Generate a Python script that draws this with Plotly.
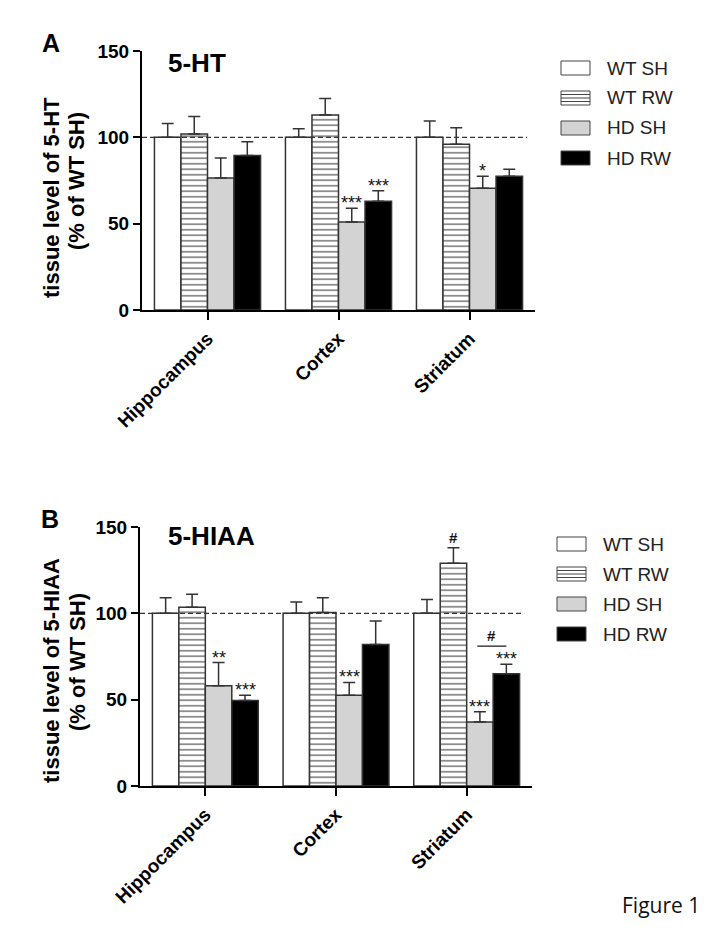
import plotly.graph_objects as go

# the page puts the figure 8 px in from the top-left corner
PAGE_PAD = 8
W, H = 716 - 2 * PAGE_PAD, 935 - 2 * PAGE_PAD

regions = ["Hippocampus", "Cortex", "Striatum"]
groups = ["WT SH", "WT RW", "HD SH", "HD RW"]

# panel A: 5-HT tissue level, % of WT SH (mean, SEM)
ht_mean = {
    "WT SH": [100, 100, 100],
    "WT RW": [102, 113, 96],
    "HD SH": [76.5, 51, 70.5],
    "HD RW": [89.5, 63, 77.5],
}
ht_sem = {
    "WT SH": [8, 5, 9.5],
    "WT RW": [10, 9.5, 9.5],
    "HD SH": [11.5, 8, 7],
    "HD RW": [8, 6, 4],
}
ht_sig = {
    "HD SH": ["", "***", "*"],
    "HD RW": ["", "***", ""],
}

# panel B: 5-HIAA tissue level, % of WT SH
hiaa_mean = {
    "WT SH": [100, 100, 100],
    "WT RW": [103.5, 100.5, 129],
    "HD SH": [58, 52.5, 37],
    "HD RW": [49.5, 82, 65],
}
hiaa_sem = {
    "WT SH": [9, 6.5, 8],
    "WT RW": [7.5, 8.5, 9],
    "HD SH": [13.5, 7.5, 6],
    "HD RW": [3, 13.5, 5.5],
}
hiaa_sig = {
    "WT RW": ["", "", "#"],
    "HD SH": ["**", "***", "***"],
    "HD RW": ["***", "", "***"],
}
# HD SH vs HD RW in striatum
hiaa_bracket = {"region": 2, "from": "HD SH", "to": "HD RW", "y": 81, "text": "#"}

FONT = "Liberation Sans, Arial, sans-serif"
EDGE = "#333"
FILL = {"WT SH": "white", "WT RW": "white", "HD SH": "#d3d3d3", "HD RW": "black"}
BARGAP = 0.19
BW = (1 - BARGAP) / len(groups)


def px(x):
    return (x - PAGE_PAD) / W


def py(y):
    return 1 - (y - PAGE_PAD) / H


def offset(g):
    return (groups.index(g) - 1.5) * BW


PANELS = [
    {
        "letter": "A", "title": "5-HT", "ytitle": "tissue level of 5-HT",
        "mean": ht_mean, "sem": ht_sem, "sig": ht_sig, "bracket": None,
        "xdom": (142, 535), "ydom": (51, 310),
        "legend": (561, 68), "label": (51, 43), "title_xy": (166, 63),
        "yt1": (51, 198), "yt2": (77, 181),
    },
    {
        "letter": "B", "title": "5-HIAA", "ytitle": "tissue level of 5-HIAA",
        "mean": hiaa_mean, "sem": hiaa_sem, "sig": hiaa_sig, "bracket": hiaa_bracket,
        "xdom": (140, 532), "ydom": (527, 786),
        "legend": (557, 544), "label": (50, 519), "title_xy": (166, 536),
        "yt1": (51, 671), "yt2": (77, 662),
    },
]


def paper_text(x, y, text, size, **kw):
    d = dict(x=px(x), y=py(y), xref="paper", yref="paper", text=text, showarrow=False,
             xanchor="center", yanchor="middle",
             font=dict(family=FONT, size=size, color=kw.pop("color", "black")))
    d.update(kw)
    return d


fig = go.Figure()
shapes = []
annotations = []

for p_i, p in enumerate(PANELS):
    sfx = "" if p_i == 0 else str(p_i + 1)
    xref, yref = "x" + sfx, "y" + sfx

    for g in groups:
        pattern = None
        if g == "WT RW":
            pattern = dict(shape="-", size=5.5, solidity=0.32, fgcolor="#111", bgcolor="white")
        fig.add_trace(
            go.Bar(
                x=regions,
                y=p["mean"][g],
                name=g,
                xaxis=xref,
                yaxis=yref,
                showlegend=False,
                marker=dict(color=FILL[g], line=dict(color=EDGE, width=1.5), pattern=pattern),
                error_y=dict(
                    type="data",
                    symmetric=False,
                    array=p["sem"][g],
                    arrayminus=[0] * len(regions),
                    color=EDGE,
                    thickness=1.5,
                    width=6,
                ),
            )
        )

    # significance marks above the error bars
    for g, marks in p["sig"].items():
        for j, m in enumerate(marks):
            if not m:
                continue
            star = m.startswith("*")
            annotations.append(
                dict(
                    x=j + offset(g), y=p["mean"][g][j] + p["sem"][g][j],
                    xref=xref, yref=yref, text=m if star else "<b>%s</b>" % m,
                    showarrow=False, xanchor="center", yanchor="bottom",
                    yshift=-7 if star else 0,
                    font=dict(family=FONT, size=18 if star else 15, color="#111"),
                )
            )

    b = p["bracket"]
    if b:
        x0 = b["region"] + offset(b["from"]) - 0.02
        x1 = b["region"] + offset(b["to"])
        shapes.append(dict(type="line", xref=xref, yref=yref, x0=x0, x1=x1,
                           y0=b["y"], y1=b["y"], line=dict(color="#222", width=1.3)))
        annotations.append(dict(x=(x0 + x1) / 2, y=b["y"], xref=xref, yref=yref,
                                text="<b>%s</b>" % b["text"], showarrow=False,
                                xanchor="center", yanchor="bottom",
                                font=dict(family=FONT, size=15, color="#111")))

    # reference line at 100 %
    shapes.append(dict(type="line", xref=xref + " domain", yref=yref, x0=0, x1=0.98,
                       y0=100, y1=100, line=dict(color="#333", width=1.3, dash="5px,3px")))

    # hand-drawn legend
    lx, ly = p["legend"]
    for k, g in enumerate(groups):
        yc = ly + 30 * k
        shapes.append(dict(type="rect", xref="paper", yref="paper",
                           x0=px(lx), x1=px(lx + 29), y0=py(yc + 7), y1=py(yc - 7),
                           fillcolor=FILL[g], line=dict(color="#444", width=1)))
        if g == "WT RW":
            for dy in (-3.5, 0, 3.5):
                shapes.append(dict(type="line", xref="paper", yref="paper",
                                   x0=px(lx), x1=px(lx + 29), y0=py(yc + dy), y1=py(yc + dy),
                                   line=dict(color="#444", width=1)))
        annotations.append(paper_text(lx + 44, yc, g, 19, xanchor="left", color="#222"))

    # panel letter, inner title, y-axis title
    annotations.append(paper_text(*p["label"], "<b>%s</b>" % p["letter"], 25))
    annotations.append(paper_text(*p["title_xy"], "<b>%s</b>" % p["title"], 26, xanchor="left"))
    annotations.append(paper_text(*p["yt1"], "<b>%s</b>" % p["ytitle"], 22, textangle=-90))
    annotations.append(paper_text(*p["yt2"], "<b>(% of WT SH)</b>", 22, textangle=-90))

    axis_common = dict(showline=True, linecolor="black", linewidth=2, ticks="outside",
                       tickwidth=2, tickcolor="black", showgrid=False, zeroline=False,
                       automargin=False)
    fig.update_layout(
        {
            "xaxis" + sfx: dict(
                axis_common, domain=[px(p["xdom"][0]), px(p["xdom"][1])],
                anchor=yref, range=[-0.5, 2.5], ticklen=8, tickangle=-45,
                tickfont=dict(family=FONT, size=19, color="black", weight="bold"),
            ),
            "yaxis" + sfx: dict(
                axis_common, domain=[py(p["ydom"][1]), py(p["ydom"][0])],
                anchor=xref, range=[0, 150], tickvals=[0, 50, 100, 150], ticklen=7,
                tickfont=dict(family=FONT, size=19, color="black", weight="bold"),
            ),
        }
    )

fig_label = paper_text(620, 905, "Figure 1", 21, xanchor="left", color="#111")
fig_label["font"]["family"] = "Open Sans, sans-serif"
annotations.append(fig_label)

fig.update_layout(
    width=W,
    height=H,
    margin=dict(l=0, r=0, t=0, b=0),
    paper_bgcolor="white",
    plot_bgcolor="white",
    barmode="group",
    bargap=BARGAP,
    bargroupgap=0,
    shapes=shapes,
    annotations=annotations,
)

fig.write_html("out.html")
